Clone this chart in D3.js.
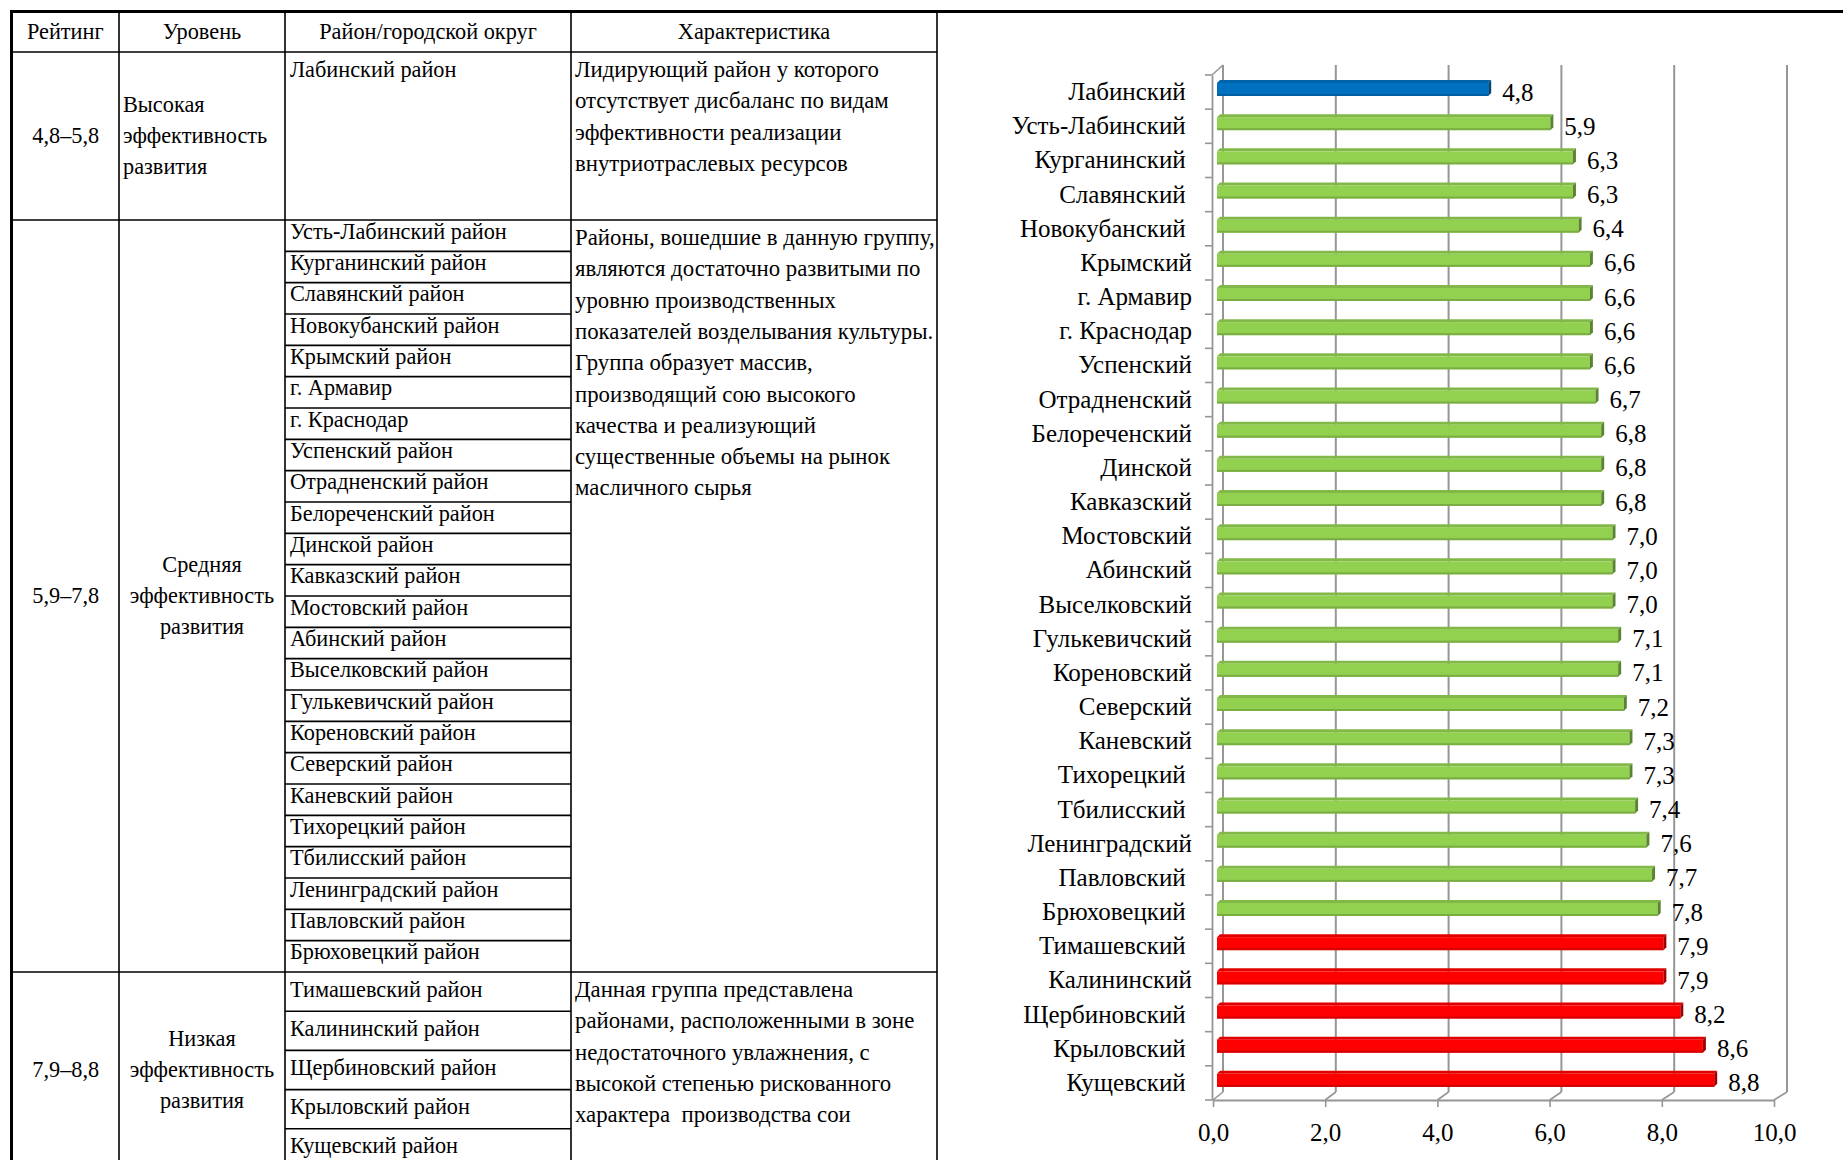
<!DOCTYPE html>
<html>
<head>
<meta charset="utf-8">
<script src="https://cdn.jsdelivr.net/npm/d3@7"></script>
<style>
  html, body { margin: 0; padding: 0; background: #fff; }
  svg { display: block; font-family: "Liberation Serif", "Times New Roman", serif; }
  .cat text { white-space: pre; }
</style>
</head>
<body>
<svg id="chart" width="1843" height="1160"></svg>
<script>
// Districts in rating order (chart labels keep their original trailing spaces)
const districts = [
  "Лабинский ", "Усть-Лабинский ", "Курганинский ", "Славянский ", "Новокубанский ",
  "Крымский", "г. Армавир", "г. Краснодар", "Успенский", "Отрадненский",
  "Белореченский", "Динской", "Кавказский", "Мостовский", "Абинский",
  "Выселковский", "Гулькевичский", "Кореновский", "Северский", "Каневский",
  "Тихорецкий ", "Тбилисский ", "Ленинградский", "Павловский ", "Брюховецкий ",
  "Тимашевский ", "Калининский", "Щербиновский ", "Крыловский ", "Кущевский "
];
const ratings = [
  4.8, 5.9, 6.3, 6.3, 6.4,
  6.6, 6.6, 6.6, 6.6, 6.7,
  6.8, 6.8, 6.8, 7.0, 7.0,
  7.0, 7.1, 7.1, 7.2, 7.3,
  7.3, 7.4, 7.6, 7.7, 7.8,
  7.9, 7.9, 8.2, 8.6, 8.8
];
const xTicks = [0, 2, 4, 6, 8, 10];

// Rating groups
const rangeLabels = ["4,8–5,8", "5,9–7,8", "7,9–8,8"];
const rangeUpper = [5.8, 7.8, 8.8];
const groupColors = ["#0070C0", "#92D050", "#FF0000"];
const levelLines = [
  ["Высокая", "эффективность", "развития"],
  ["Средняя", "эффективность", "развития"],
  ["Низкая", "эффективность", "развития"]
];
const descriptions = [
  ["Лидирующий район у которого",
   "отсутствует дисбаланс по видам",
   "эффективности реализации",
   "внутриотраслевых ресурсов"],
  ["Районы, вошедшие в данную группу,",
   "являются достаточно развитыми по",
   "уровню производственных",
   "показателей возделывания культуры.",
   "Группа образует массив,",
   "производящий сою высокого",
   "качества и реализующий",
   "существенные объемы на рынок",
   "масличного сырья"],
  ["Данная группа представлена",
   "районами, расположенными в зоне",
   "недостаточного увлажнения, с",
   "высокой степенью рискованного",
   "характера  производства сои"]
];
const headers = ["Рейтинг", "Уровень", "Район/городской округ", "Характеристика"];

const groupOf = v => rangeUpper.findIndex(u => v <= u + 1e-9);
const rows = districts.map((name, i) => ({
  name: name.trim(),
  label: name,
  value: ratings[i],
  group: groupOf(ratings[i])
}));
const tableName = n => n.startsWith("г.") ? n : n + " район";

const svg = d3.select("#chart");
const ru = d3.formatLocale({ decimal: ",", thousands: " ", grouping: [3], currency: ["", " ₽"] });
const fmt = ru.format(".1f");

/* ---------------- table ---------------- */
const T = { left: 11.5, top: 11.5, right: 937, headerBottom: 52 };
const colX = [T.left, 119, 285, 571, T.right];
const groupTop = [52, 220, 972];
const groupBottom = [220, 972, 1168];
const lineStep = 31.3;
const nameBaseline = [24.5, 18.5, 24.5];
const tbl = svg.append("g").attr("class", "table").style("font-size", "22.3px");

// header
tbl.selectAll("text.hdr").data(headers).join("text")
  .attr("class", "hdr")
  .attr("x", (d, i) => (colX[i] + colX[i + 1]) / 2)
  .attr("y", 39)
  .attr("text-anchor", "middle")
  .text(d => d);

const groups = [0, 1, 2].map(g => {
  const members = rows.filter(r => r.group === g);
  const h = (groupBottom[g] - groupTop[g]) / members.length;
  return { g, members, rowH: h, top: groupTop[g], bottom: groupBottom[g], mid: (groupTop[g] + groupBottom[g]) / 2 };
});

groups.forEach(G => {
  const gg = tbl.append("g");
  // rating range
  gg.append("text")
    .attr("x", (colX[0] + colX[1]) / 2 + 0.5).attr("y", G.mid + 7)
    .attr("text-anchor", "middle").text(rangeLabels[G.g]);
  // level
  gg.selectAll("text.lvl").data(levelLines[G.g]).join("text")
    .attr("class", "lvl")
    .attr("x", G.g === 0 ? colX[1] + 4 : (colX[1] + colX[2]) / 2)
    .attr("text-anchor", G.g === 0 ? "start" : "middle")
    .attr("y", (d, i) => G.mid + 7 + (i - 1) * lineStep)
    .text(d => d);
  // district names
  gg.selectAll("text.dst").data(G.members).join("text")
    .attr("class", "dst")
    .attr("x", colX[2] + 5)
    .attr("y", (d, i) => G.top + i * G.rowH + nameBaseline[G.g])
    .text(d => tableName(d.name));
  // row separators inside the district column
  gg.selectAll("line.sep").data(d3.range(1, G.members.length)).join("line")
    .attr("class", "sep")
    .attr("x1", colX[2]).attr("x2", colX[3])
    .attr("y1", i => G.top + i * G.rowH).attr("y2", i => G.top + i * G.rowH)
    .attr("stroke", "#000").attr("stroke-width", 1.6);
  // description
  gg.selectAll("text.dsc").data(descriptions[G.g]).join("text")
    .attr("class", "dsc")
    .style("white-space", "pre")
    .style("font-size", "22.8px")
    .attr("x", colX[3] + 4)
    .attr("y", (d, i) => G.top + 25 + i * lineStep)
    .text(d => d);
});

// table rules
const hLines = [T.headerBottom, groupTop[1], groupTop[2]];
tbl.selectAll("line.h").data(hLines).join("line")
  .attr("x1", T.left).attr("x2", T.right).attr("y1", d => d).attr("y2", d => d)
  .attr("stroke", "#000").attr("stroke-width", 1.6);
tbl.selectAll("line.v").data(colX.slice(1)).join("line")
  .attr("x1", d => d).attr("x2", d => d).attr("y1", T.top).attr("y2", 1160)
  .attr("stroke", "#000").attr("stroke-width", 1.6);
tbl.append("line").attr("x1", T.left).attr("x2", T.left).attr("y1", 10).attr("y2", 1160)
  .attr("stroke", "#000").attr("stroke-width", 3);
// top rule running across the page
svg.append("line").attr("x1", 10).attr("x2", 1843).attr("y1", T.top).attr("y2", T.top)
  .attr("stroke", "#000").attr("stroke-width", 3.2);

/* ---------------- 3-D bar chart ---------------- */
const P = { frontTop: 75, frontBottom: 1100, backTop: 65, backBottom: 1092, leftEdge: 1212 };
const xFront = d3.scaleLinear().domain([0, 10]).range([1213, 1774]);
const xBack = d3.scaleLinear().domain([0, 10]).range([1223, 1787]);
const xBar = d3.scaleLinear().domain([0, 10]).range([1217, 1782]);
const y = d3.scaleBand().domain(rows.map(r => r.name)).range([P.frontTop, P.frontBottom]).padding(0);
const depth = 3;
const grid = "#969696";
const ch = svg.append("g").attr("class", "chart").style("font-size", "25px");

// back-wall gridlines
ch.selectAll("line.grid").data(xTicks).join("line")
  .attr("x1", d => xBack(d)).attr("x2", d => xBack(d))
  .attr("y1", P.backTop).attr("y2", P.backBottom)
  .attr("stroke", grid).attr("stroke-width", 2);
// floor edges from the front axis to the back wall
ch.selectAll("line.floor").data(xTicks).join("line")
  .attr("x1", d => xFront(d)).attr("y1", P.frontBottom)
  .attr("x2", d => xBack(d)).attr("y2", P.backBottom)
  .attr("stroke", grid).attr("stroke-width", 1.6);
// top corner of the side wall
ch.append("line")
  .attr("x1", P.leftEdge).attr("y1", P.frontTop)
  .attr("x2", xBack(0)).attr("y2", P.backTop)
  .attr("stroke", grid).attr("stroke-width", 1.6);

// category tick marks at band boundaries
const bounds = rows.map(r => y(r.name)).concat([P.frontBottom]);
ch.selectAll("line.ctick").data(bounds).join("line")
  .attr("x1", P.leftEdge - 7).attr("x2", P.leftEdge)
  .attr("y1", d => d).attr("y2", d => d)
  .attr("stroke", grid).attr("stroke-width", 1.6);

// category axis (labels only)
const yAxis = ch.append("g").attr("class", "cat")
  .attr("transform", `translate(${P.leftEdge},0)`)
  .call(d3.axisLeft(y).tickSize(0).tickSizeOuter(0).tickPadding(20)
    .tickFormat(n => rows.find(r => r.name === n).label));
yAxis.select(".domain").attr("stroke", grid).attr("stroke-width", 1.8);
yAxis.selectAll("text").attr("fill", "#000").style("font-size", "25px")
  .style("font-family", "'Liberation Serif','Times New Roman',serif");

// value axis on the front edge of the floor
const xAxis = ch.append("g")
  .attr("transform", `translate(0,${P.frontBottom})`)
  .call(d3.axisBottom(xFront).tickValues(xTicks).tickSize(7).tickSizeOuter(0)
    .tickPadding(16).tickFormat(fmt));
xAxis.select(".domain").attr("stroke", grid).attr("stroke-width", 1.8);
xAxis.selectAll(".tick line").attr("stroke", grid).attr("stroke-width", 1.6);
xAxis.selectAll("text").attr("fill", "#000").style("font-size", "25px")
  .style("font-family", "'Liberation Serif','Times New Roman',serif");

// bars: front face, top face and end cap
const bars = ch.selectAll("g.bar").data(rows).join("g").attr("class", "bar");
const barTop = d => y(d.name) + 5;
const barH = 16;
bars.append("path")
  .attr("fill", d => d3.color(groupColors[d.group]).darker(0.35))
  .attr("d", d => {
    const x0 = xBar(0), x1 = xBar(d.value), t = barTop(d);
    return `M${x0},${t + depth}L${x0 + depth},${t}L${x1 + depth},${t}L${x1},${t + depth}Z`;
  });
bars.append("rect")
  .attr("x", xBar(0))
  .attr("y", d => barTop(d) + depth)
  .attr("width", d => xBar(d.value) - xBar(0))
  .attr("height", barH - depth)
  .attr("fill", d => groupColors[d.group]);
bars.append("rect")
  .attr("x", xBar(0))
  .attr("y", d => barTop(d) + barH - 2)
  .attr("width", d => xBar(d.value) - xBar(0))
  .attr("height", 2)
  .attr("fill", d => d3.color(groupColors[d.group]).darker(0.5));
bars.append("path")
  .attr("fill", d => d3.color(groupColors[d.group]).darker(1.3))
  .attr("d", d => {
    const x1 = xBar(d.value), t = barTop(d);
    return `M${x1},${t + depth}L${x1 + depth},${t}L${x1 + depth},${t + barH - depth}L${x1},${t + barH}Z`;
  });

// value labels
ch.selectAll("text.val").data(rows).join("text")
  .attr("class", "val")
  .attr("x", d => xBar(d.value) + depth + 11)
  .attr("y", d => y(d.name) + y.bandwidth() / 2 + 8.5)
  .text(d => fmt(d.value));
</script>
</body>
</html>
